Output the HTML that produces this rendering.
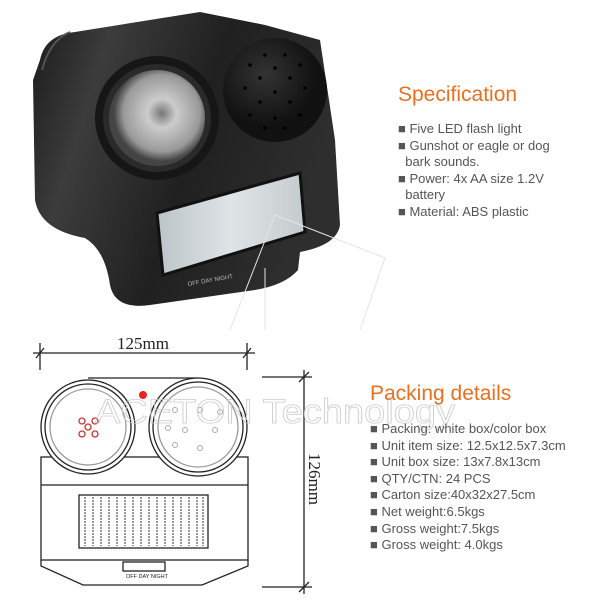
<!DOCTYPE html>
<html><head><style>
body{margin:0;width:600px;height:600px;background:#fff;overflow:hidden;font-family:"Liberation Sans",sans-serif;position:relative}
.h{position:absolute;color:#e8701f;font-size:21px}
.l{position:absolute;color:#555;font-size:13px;line-height:16.6px}
</style></head><body>
<svg width="600" height="600" style="position:absolute;left:0;top:0">
<defs>
<linearGradient id="g1" x1="0" x2="1" y1="0" y2="0.3"><stop offset="0" stop-color="#1a1a1a"/><stop offset=".25" stop-color="#3c3c3c"/><stop offset=".6" stop-color="#202020"/><stop offset="1" stop-color="#2e2e2e"/></linearGradient>
<radialGradient id="g2" cx=".55" cy=".45"><stop offset="0" stop-color="#777"/><stop offset=".3" stop-color="#ccc"/><stop offset=".8" stop-color="#999"/><stop offset="1" stop-color="#444"/></radialGradient>
<radialGradient id="g3" cx=".4" cy=".35"><stop offset="0" stop-color="#333"/><stop offset="1" stop-color="#111"/></radialGradient>
<linearGradient id="g4" x1="0" x2="1"><stop offset="0" stop-color="#bcc4c8"/><stop offset=".5" stop-color="#dfe4e6"/><stop offset="1" stop-color="#c5cbcd"/></linearGradient>
</defs>
<path d="M40 60 Q45 35 75 32 L200 12 L265 25 L320 40 L335 140 L340 225 Q337 245 300 252 L298 270 Q285 285 255 290 L150 305 Q115 310 110 285 Q105 250 85 238 Q40 230 35 200 L33 80 Z" fill="url(#g1)"/>
<path d="M70 32 Q50 40 42 70" stroke="#555" fill="none" stroke-width="2"/>
<circle cx="157" cy="118" r="62" fill="#161616"/>
<circle cx="157" cy="118" r="54" fill="#2a2a2a"/>
<circle cx="157" cy="118" r="48" fill="url(#g2)"/>
<circle cx="275" cy="90" r="52" fill="url(#g3)"/>
<g fill="#000">
<circle cx="265" cy="55" r="1.8"/><circle cx="285" cy="55" r="1.8"/><circle cx="250" cy="65" r="1.8"/><circle cx="300" cy="65" r="1.8"/><circle cx="275" cy="68" r="1.8"/><circle cx="260" cy="78" r="1.8"/><circle cx="290" cy="78" r="1.8"/><circle cx="245" cy="88" r="1.8"/><circle cx="305" cy="88" r="1.8"/><circle cx="275" cy="92" r="1.8"/><circle cx="260" cy="102" r="1.8"/><circle cx="290" cy="102" r="1.8"/><circle cx="250" cy="115" r="1.8"/><circle cx="300" cy="115" r="1.8"/><circle cx="275" cy="118" r="1.8"/><circle cx="265" cy="128" r="1.8"/><circle cx="285" cy="128" r="1.8"/>
</g>
<path d="M157 213 L300 173 L305 232 L163 275 Z" fill="url(#g4)" stroke="#111" stroke-width="3"/>
<text x="188" y="286" font-size="6" fill="#bbb" transform="rotate(-10 188 286)">OFF DAY NIGHT</text>
<g stroke="#e4e4e4" fill="none"><path d="M275 215 L230 330"/><path d="M275 215 L385 258 L360 330"/><path d="M265 268 L265 330"/></g>
<g stroke="#222" fill="none" stroke-width="1.3">
<line x1="33" y1="353" x2="255" y2="353"/><line x1="40" y1="343" x2="40" y2="370"/><line x1="247" y1="343" x2="247" y2="370"/>
<line x1="36" y1="358" x2="44" y2="348"/><line x1="243" y1="358" x2="251" y2="348"/>
<line x1="262" y1="377" x2="312" y2="377"/><line x1="262" y1="587" x2="312" y2="587"/><line x1="304" y1="370" x2="304" y2="594"/>
<line x1="299" y1="382" x2="309" y2="372"/><line x1="299" y1="592" x2="309" y2="582"/>
<path d="M88 378 L198 378"/>
<rect x="41" y="457" width="207" height="103"/>
<line x1="41" y1="485" x2="248" y2="485"/>
<path d="M41 560 L41 566 L83 585 L202 585 L248 566 L248 560"/>
<circle cx="88" cy="427" r="47" fill="#fff"/><circle cx="88" cy="427" r="43"/><circle cx="88" cy="427" r="38" stroke="#999"/>
<circle cx="198" cy="427" r="49" fill="#fff"/><circle cx="198" cy="427" r="45"/><circle cx="198" cy="427" r="40" stroke="#999"/>
<rect x="79" y="495" width="129" height="53"/>
<rect x="123" y="562" width="42" height="9"/>
</g>
<g stroke="#555" stroke-width="1.2" stroke-dasharray="2 1">
<line x1="85" y1="497" x2="85" y2="546"/><line x1="93" y1="497" x2="93" y2="546"/><line x1="101" y1="497" x2="101" y2="546"/><line x1="109" y1="497" x2="109" y2="546"/><line x1="117" y1="497" x2="117" y2="546"/><line x1="125" y1="497" x2="125" y2="546"/><line x1="133" y1="497" x2="133" y2="546"/><line x1="141" y1="497" x2="141" y2="546"/><line x1="149" y1="497" x2="149" y2="546"/><line x1="157" y1="497" x2="157" y2="546"/><line x1="165" y1="497" x2="165" y2="546"/><line x1="173" y1="497" x2="173" y2="546"/><line x1="181" y1="497" x2="181" y2="546"/><line x1="189" y1="497" x2="189" y2="546"/><line x1="197" y1="497" x2="197" y2="546"/><line x1="203" y1="497" x2="203" y2="546"/>
</g>
<g stroke="#c33" fill="none" stroke-width="1.3">
<circle cx="82" cy="421" r="3"/><circle cx="95" cy="421" r="3"/><circle cx="88" cy="427" r="3"/><circle cx="82" cy="434" r="3"/><circle cx="95" cy="434" r="3"/>
</g>
<circle cx="143" cy="395" r="4" fill="#e22"/>
<g fill="none" stroke="#aaa"><circle cx="175" cy="410" r="2.5"/><circle cx="200" cy="410" r="2.5"/><circle cx="185" cy="430" r="2.5"/><circle cx="215" cy="430" r="2.5"/><circle cx="175" cy="445" r="2.5"/><circle cx="200" cy="448" r="2.5"/><circle cx="220" cy="412" r="2.5"/><circle cx="168" cy="428" r="2.5"/></g>
<text x="143" y="349" font-family="Liberation Serif" font-size="17" text-anchor="middle" fill="#222">125mm</text>
<text x="0" y="0" font-family="Liberation Serif" font-size="17" fill="#222" transform="translate(309,453) rotate(90)">126mm</text>
<text x="126" y="578" font-size="5.5" fill="#222">OFF DAY NIGHT</text>
<text x="95" y="423" font-size="34" textLength="360" lengthAdjust="spacingAndGlyphs" fill="none" stroke="#ccc" stroke-width=".8">ACETON Technology</text>
</svg>
<div class="h" style="left:370px;top:382px">Packing details</div>
<div class="h" style="left:398px;top:83px">Specification</div>
<div class="l" style="left:398px;top:121px">■ Five LED flash light<br>■ Gunshot or eagle or dog<br>&nbsp; bark sounds.<br>■ Power: 4x AA size 1.2V<br>&nbsp; battery<br>■ Material: ABS plastic</div>
<div class="l" style="left:370px;top:421px">■ Packing: white box/color box<br>■ Unit item size: 12.5x12.5x7.3cm<br>■ Unit box size: 13x7.8x13cm<br>■ QTY/CTN: 24 PCS<br>■ Carton size:40x32x27.5cm<br>■ Net weight:6.5kgs<br>■ Gross weight:7.5kgs<br>■ Gross weight: 4.0kgs</div>
</body></html>
